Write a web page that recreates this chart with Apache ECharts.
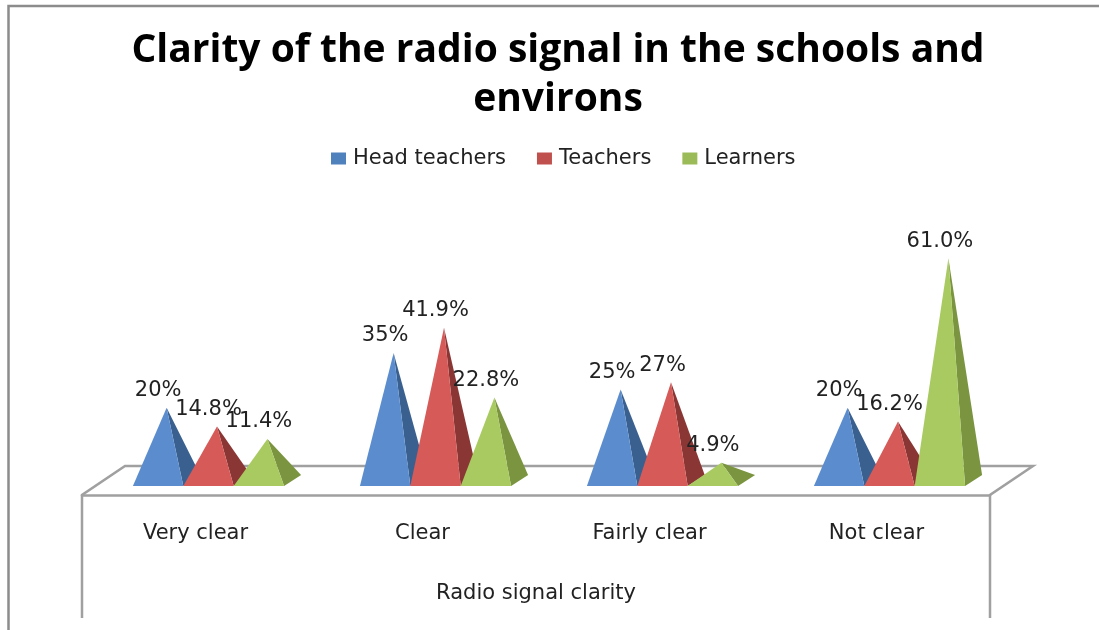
<!DOCTYPE html>
<html>
<head>
<meta charset="utf-8">
<style>
  html, body { margin: 0; padding: 0; background: #fff; }
  #chart { width: 1099px; height: 630px; }
</style>
<script src="https://cdn.jsdelivr.net/npm/echarts@6/dist/echarts.min.js"></script>
</head>
<body>
<div id="chart"></div>
<script>
const categories = ['Very clear', 'Clear', 'Fairly clear', 'Not clear']
const headTeachers = [20, 35, 25, 20]
const teachers = [14.8, 41.9, 27, 16.2]
const learners = [11.4, 22.8, 4.9, 61.0]
const headLabels = ['20%', '35%', '25%', '20%']
const teacherLabels = ['14.8%', '41.9%', '27%', '16.2%']
const learnerLabels = ['11.4%', '22.8%', '4.9%', '61.0%']

const FONT = '"DejaVu Sans"'
const chart = echarts.init(document.getElementById('chart'))

// one pyramid: front face + right side face, the apex leans back to the middle of the base
function pyramidSeries(name, values, labels, slot, legendColor, frontColor, sideColor) {
  return {
    name,
    type: 'custom',
    coordinateSystem: 'cartesian2d',
    itemStyle: { color: legendColor },
    data: values.map((v, i) => [i, v]),
    encode: { x: 0, y: 1 },
    renderItem(params, api) {
      const catWidth = api.size([1, 0])[0]
      const width = catWidth * 0.222
      const floor = api.coord([api.value(0), 0])
      const top = api.coord([api.value(0), api.value(1)])
      const cx = floor[0] + 13 + slot * width
      const baseY = floor[1] - 9
      const apex = [cx + 8.5, top[1] - 14.5]
      const left = [cx - width / 2, baseY]
      const right = [cx + width / 2, baseY]
      const back = [right[0] + 17, baseY - 11]
      return {
        type: 'group',
        children: [
          { type: 'polygon', shape: { points: [right, back, apex] }, style: { fill: sideColor } },
          { type: 'polygon', shape: { points: [left, right, apex] }, style: { fill: frontColor } },
          {
            type: 'text',
            z2: 10,
            style: {
              text: labels[params.dataIndex],
              x: cx,
              y: apex[1] - 17,
              align: 'center',
              verticalAlign: 'middle',
              font: '21px ' + FONT,
              fill: '#222'
            }
          }
        ]
      }
    }
  }
}

const frameLine = { stroke: '#a0a0a0', lineWidth: 2.5, fill: null }

chart.setOption({
  animation: false,
  backgroundColor: '#fff',
  title: {
    text: 'Clarity of the radio signal in the schools and\nenvirons',
    left: 553,
    top: 21,
    textAlign: 'center',
    textStyle: {
      fontFamily: '"Open Sans"',
      fontWeight: 'bold',
      fontSize: 39,
      lineHeight: 49,
      color: '#000'
    }
  },
  legend: {
    left: 326,
    top: 143,
    itemWidth: 15,
    itemHeight: 12,
    itemGap: 31,
    icon: 'rect',
    textStyle: { fontFamily: FONT, fontSize: 21, color: '#222', padding: [0, 0, 0, 2] },
    data: ['Head teachers', 'Teachers', 'Learners']
  },
  grid: { left: 82, width: 908, top: 240, bottom: 135 },
  xAxis: {
    type: 'category',
    data: categories,
    axisTick: { show: false },
    axisLine: { lineStyle: { color: '#a0a0a0', width: 2.5 } },
    axisLabel: { fontFamily: FONT, fontSize: 21, color: '#222', margin: 28 },
    name: 'Radio signal clarity',
    nameLocation: 'middle',
    nameGap: 88,
    nameTextStyle: { fontFamily: FONT, fontSize: 21, color: '#222' }
  },
  yAxis: { type: 'value', min: 0, max: 70, show: false },
  graphic: [
    // page frame and the 3D floor of the plot
    { type: 'polyline', shape: { points: [[8.5, 630], [8.5, 6], [1099, 6]] }, style: { stroke: '#8c8c8c', lineWidth: 2.5, fill: null } },
    { type: 'polyline', shape: { points: [[82, 618], [82, 495], [125, 466], [1033, 466], [990, 495], [990, 618]] }, style: frameLine, z: -1 }
  ],
  series: [
    pyramidSeries('Head teachers', headTeachers, headLabels, -1, '#4f81bd', '#5b8dce', '#3a6090'),
    pyramidSeries('Teachers', teachers, teacherLabels, 0, '#c0504d', '#d65a58', '#8a3634'),
    pyramidSeries('Learners', learners, learnerLabels, 1, '#9bbb59', '#a8ca60', '#7a9440')
  ]
})
</script>
</body>
</html>
